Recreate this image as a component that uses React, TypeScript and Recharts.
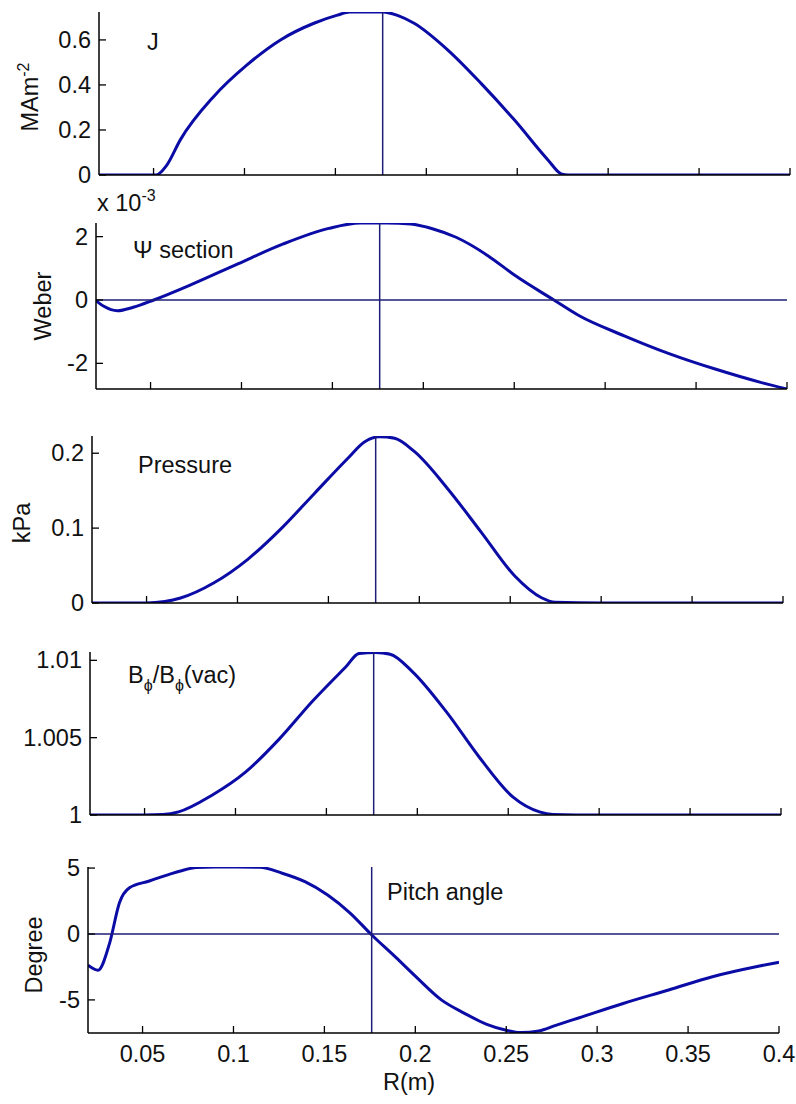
import { LineChart, Line, XAxis, YAxis, ReferenceLine } from "recharts";

// shared radius axis
const rTicks = [0.05, 0.1, 0.15, 0.2, 0.25, 0.3, 0.35, 0.4];
const rAxis = 0.176; // vertical marker

// J (MA m^-2)
const rJ = [0.02, 0.05, 0.0514, 0.0573, 0.0647, 0.083, 0.1014, 0.1198, 0.1382, 0.1511, 0.158, 0.176, 0.1845, 0.1933, 0.2117, 0.2301, 0.2485, 0.2669, 0.2742, 0.278, 0.3, 0.35, 0.4];
const jVals = [0, 0, 0, 0.044, 0.156, 0.348, 0.489, 0.6, 0.674, 0.71, 0.724, 0.724, 0.708, 0.674, 0.556, 0.407, 0.244, 0.067, 0.005, 0, 0, 0, 0];

// Psi section (x 10^-3 Weber)
const rPsi = [0.02, 0.0243, 0.0318, 0.0405, 0.0518, 0.073, 0.098, 0.123, 0.148, 0.1655, 0.18, 0.193, 0.205, 0.218, 0.2355, 0.2505, 0.2718, 0.2855, 0.3105, 0.3355, 0.3605, 0.3855, 0.4];
const psiVals = [-0.02, -0.2, -0.34, -0.23, 0, 0.5, 1.14, 1.77, 2.26, 2.43, 2.43, 2.4, 2.25, 1.98, 1.4, 0.77, 0, -0.49, -1.13, -1.7, -2.18, -2.6, -2.81];

// Pressure (kPa)
const rP = [0.02, 0.05, 0.06, 0.0687, 0.0871, 0.1055, 0.1239, 0.1422, 0.1606, 0.1698, 0.178, 0.1864, 0.1974, 0.2158, 0.2342, 0.2525, 0.2672, 0.2746, 0.3, 0.35, 0.4];
const pVals = [0, 0, 0.002, 0.0067, 0.027, 0.058, 0.099, 0.146, 0.193, 0.215, 0.222, 0.22, 0.202, 0.152, 0.094, 0.036, 0.007, 0.001, 0, 0, 0];

// B_phi / B_phi(vac)
const rB = [0.02, 0.05, 0.06, 0.0687, 0.0871, 0.1055, 0.1239, 0.1422, 0.1606, 0.168, 0.177, 0.185, 0.1974, 0.2158, 0.2342, 0.2525, 0.2672, 0.2746, 0.3, 0.35, 0.4];
const bVals = [1, 1, 1.00003, 1.0002, 1.00128, 1.00277, 1.00489, 1.00734, 1.00957, 1.01045, 1.0105, 1.0104, 1.00926, 1.0067, 1.00372, 1.00117, 1.0002, 1.00004, 1, 1, 1];

// Pitch angle (degree)
const rPitch = [0.02, 0.0255, 0.0319, 0.0373, 0.0428, 0.0533, 0.0643, 0.0709, 0.0797, 0.09, 0.1018, 0.1143, 0.1268, 0.1393, 0.1518, 0.1643, 0.1755, 0.1893, 0.2, 0.2143, 0.2268, 0.2393, 0.25, 0.258, 0.268, 0.2768, 0.2902, 0.3143, 0.3393, 0.3634, 0.3893, 0.4];
const pitchVals = [-2.37, -2.75, -0.69, 2.37, 3.5, 4.0, 4.5, 4.78, 5.04, 5.08, 5.08, 5.06, 4.61, 3.97, 2.96, 1.57, 0, -1.78, -3.2, -5.0, -6.0, -6.85, -7.3, -7.48, -7.35, -6.95, -6.35, -5.27, -4.25, -3.24, -2.43, -2.14];

const rows = (r: number[], v: number[]) => r.map((x, i) => ({ r: x, v: v[i] }));

const blue = "#0b0ba6";
const navy = "#1e1e78";
const font = "'Liberation Sans', Arial, sans-serif";
const fs = 23.5;

type PanelProps = {
  top: number;
  bottom: number;
  left: number;
  right: number;
  data: { r: number; v: number }[];
  domain: [number, number];
  yTicks: number[];
  showX?: boolean;
  zeroLine?: boolean;
};

function Panel({ top, bottom, left, right, data, domain, yTicks, showX, zeroLine }: PanelProps) {
  const yW = 60;
  const mTop = 20;
  const xH = showX ? 40 : 12;
  const h = bottom - top + mTop + xH;

  const xTick = (p: any) => (
    <g>
      <line x1={p.x} x2={p.x} y1={p.y} y2={p.y - 7} stroke="#000" strokeWidth={1.3} />
      {showX && (
        <text x={p.x} y={p.y + 29} textAnchor="middle" fontFamily={font} fontSize={fs} fill="#111">
          {String(p.payload.value)}
        </text>
      )}
    </g>
  );
  const yTick = (p: any) => (
    <g>
      <line x1={p.x} x2={p.x + 7} y1={p.y} y2={p.y} stroke="#000" strokeWidth={1.3} />
      <text x={p.x - 8} y={p.y + 8} textAnchor="end" fontFamily={font} fontSize={fs} fill="#111">
        {String(p.payload.value)}
      </text>
    </g>
  );

  return (
    <div style={{ position: "absolute", left: 0, top: top - mTop }}>
      <LineChart
        width={796}
        height={h}
        data={data}
        margin={{ top: mTop, right: 796 - right, bottom: 0, left: left - yW }}
      >
        <XAxis
          dataKey="r"
          type="number"
          domain={[0.02, 0.4]}
          ticks={rTicks}
          interval={0}
          allowDataOverflow
          height={xH}
          axisLine={{ stroke: "#000", strokeWidth: 1.5 }}
          tickLine={false}
          tickSize={0}
          tickMargin={0}
          tick={xTick}
        />
        <YAxis
          type="number"
          domain={domain}
          ticks={yTicks}
          interval={0}
          allowDataOverflow
          width={yW}
          axisLine={{ stroke: "#000", strokeWidth: 1.5 }}
          tickLine={false}
          tickSize={0}
          tickMargin={0}
          tick={yTick}
        />
        <Line dataKey="v" type="monotone" stroke={blue} strokeWidth={3} dot={false} isAnimationActive={false} />
        <ReferenceLine x={rAxis} stroke={navy} strokeWidth={1.5} />
        {zeroLine && <ReferenceLine y={0} stroke={navy} strokeWidth={1.5} />}
      </LineChart>
    </div>
  );
}

export default function App() {
  return (
    <div
      style={{
        position: "absolute",
        left: 0,
        top: 0,
        width: 796,
        height: 1104,
        background: "#fff",
        overflow: "hidden",
      }}
    >
      <Panel top={12} bottom={175} left={99} right={790} data={rows(rJ, jVals)} domain={[0, 0.724]} yTicks={[0, 0.2, 0.4, 0.6]} />
      <Panel top={223} bottom={389} left={96} right={787} data={rows(rPsi, psiVals)} domain={[-2.81, 2.43]} yTicks={[-2, 0, 2]} zeroLine />
      <Panel top={436} bottom={603} left={92} right={783} data={rows(rP, pVals)} domain={[0, 0.223]} yTicks={[0, 0.1, 0.2]} />
      <Panel top={652} bottom={815} left={90} right={781} data={rows(rB, bVals)} domain={[1, 1.01054]} yTicks={[1, 1.005, 1.01]} />
      <Panel top={867} bottom={1033} left={88} right={779} data={rows(rPitch, pitchVals)} domain={[-7.51, 5.08]} yTicks={[-5, 0, 5]} showX zeroLine />

      <svg
        width={796}
        height={1104}
        style={{ position: "absolute", left: 0, top: 0, pointerEvents: "none" }}
        fontFamily={font}
        fontSize={fs}
        fill="#111"
      >
        <text x={147} y={50}>J</text>
        <text x={133} y={258}>Ψ section</text>
        <text x={138} y={473}>Pressure</text>
        <text x={128} y={683}>
          B<tspan dy={8} fontSize={16}>ϕ</tspan>
          <tspan dy={-8}>/B</tspan>
          <tspan dy={8} fontSize={16}>ϕ</tspan>
          <tspan dy={-8}>(vac)</tspan>
        </text>
        <text x={387} y={900}>Pitch angle</text>
        <text x={383} y={1090}>R(m)</text>
        <text x={97} y={211}>
          x 10<tspan dy={-10} fontSize={16}>-3</tspan>
        </text>

        <text transform="translate(38,97) rotate(-90)" textAnchor="middle">
          MAm<tspan dy={-9} fontSize={16}>-2</tspan>
        </text>
        <text transform="translate(51,306) rotate(-90)" textAnchor="middle">Weber</text>
        <text transform="translate(30,523) rotate(-90)" textAnchor="middle">kPa</text>
        <text transform="translate(42,955) rotate(-90)" textAnchor="middle">Degree</text>
      </svg>
    </div>
  );
}
